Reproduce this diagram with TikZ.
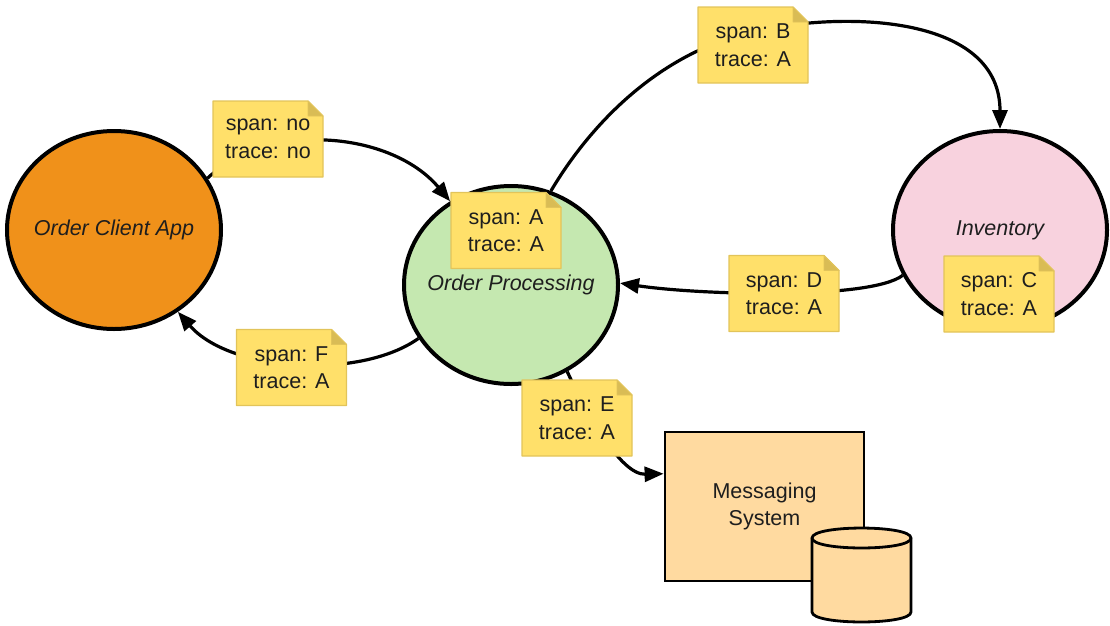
\documentclass[tikz,border=0pt]{standalone}
\usepackage{fontspec}
\setmainfont{Liberation Sans}
\usetikzlibrary{shapes.geometric,arrows.meta}
\definecolor{clientC}{HTML}{F0911A}
\definecolor{procC}{HTML}{C5E8B0}
\definecolor{invC}{HTML}{F8D2DE}
\definecolor{msgC}{HTML}{FFDAA0}
\definecolor{noteFill}{HTML}{FFE06A}
\definecolor{noteEdge}{HTML}{E2C45A}
\definecolor{noteFold}{HTML}{D9BC55}
\definecolor{txtC}{HTML}{1E1E1E}
\newcommand\diagfont{\fontsize{21.5}{27.5}\selectfont}
\tikzset{
  proc/.style={ellipse, draw=black, line width=4pt, inner sep=0pt,
    minimum width=214pt, minimum height=198pt, font=\diagfont\itshape, text=txtC},
  conn/.style={draw=black, line width=3.2pt, -{Triangle[length=19pt,width=15pt]}},
  notetext/.style={align=center, inner sep=0pt, text=txtC, font=\diagfont},
  notebg/.style={fill=noteFill, draw=noteEdge, line width=1.2pt, line join=round},
  notefold/.style={fill=noteFold, draw=noteEdge, line width=0.8pt, line join=round},
  msgbox/.style={rectangle, draw=black, line width=2.8pt, fill=msgC,
    minimum width=199pt, minimum height=149pt, align=center, text=txtC, font=\diagfont},
  cyl/.style={draw=black, line width=2.8pt, fill=msgC, line join=round},
}
\newcommand\stickynote[4]{%
  \path[notebg] (#2-55,#3+38) -- (#2-55,#3-38) -- (#2+40,#3-38) -- (#2+55,#3-23) -- (#2+55,#3+38) -- cycle;
  \path[notefold] (#2+40,#3-38) -- (#2+40,#3-23) -- (#2+55,#3-23) -- cycle;
  \node[notetext] (#1) at (#2,#3) {#4};
}
\begin{document}
\begin{tikzpicture}[x=1pt,y=-1pt]
\useasboundingbox (0,0) rectangle (1110,625);

% services
\node[proc, fill=clientC] (oca) at (114,230) {\makebox[0pt]{Order Client App}};
\node[proc, fill=procC] (op) at (511,285) {\makebox[0pt]{\raisebox{5pt}{Order Processing}}};
\node[proc, fill=invC] (inv) at (1000,230) {\makebox[0pt]{Inventory}};

% messaging system
\node[msgbox] (ms) at (764.5,506.5) {Messaging\\System};
\path[cyl] (812,538) -- (812,612) .. controls (812,625.3) and (911,625.3) .. (911,612)
  -- (911,538) .. controls (911,524.7) and (812,524.7) .. (812,538) -- cycle;
\path[cyl] (812,538) .. controls (812,551.3) and (911,551.3) .. (911,538);

% connectors
\draw[conn] (oca.29) .. controls (270,120) and (392,132) .. (op.126);
\draw[conn] (op.67) .. controls (590,125) and (660,50) .. (760,30)
  .. controls (860,10) and (1000,20) .. (inv.90);
\draw[conn] (inv.205) .. controls (870,300) and (700,295) .. (op.1);
\draw[conn] (op.210) .. controls (360,380) and (230,372) .. (oca.308);
\draw[conn] (op.303) .. controls (585,410) and (620,475) .. (ms.162);

% sticky notes
\stickynote{nNo}{268}{139}{span: no\\trace: no}
\stickynote{nA}{506}{230.5}{span: A\\trace: A}
\stickynote{nB}{753}{45}{span: B\\trace: A}
\stickynote{nD}{784}{293.5}{span: D\\trace: A}
\stickynote{nC}{999}{294}{span: C\\trace: A}
\stickynote{nF}{291.5}{367.5}{span: F\\trace: A}
\stickynote{nE}{577}{418}{span: E\\trace: A}
\end{tikzpicture}
\end{document}
